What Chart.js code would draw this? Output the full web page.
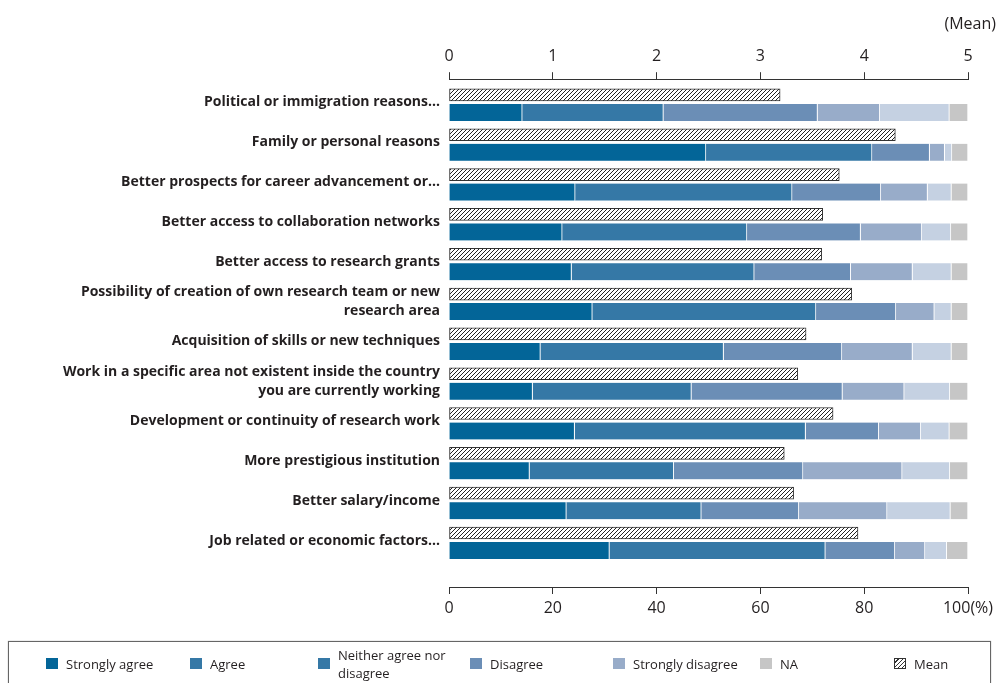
<!DOCTYPE html>
<html>
<head>
<meta charset="utf-8">
<script src="https://cdn.jsdelivr.net/npm/chart.js@4.4.0/dist/chart.umd.min.js"></script>
<style>
  html, body { margin: 0; padding: 0; background: #fff; }
  #wrap { position: relative; width: 998px; height: 683px; overflow: hidden; font-family: "Open Sans", sans-serif; }
  #chart { position: absolute; left: 0; top: 0; }
  #legend { position: absolute; left: 8px; top: 641px; width: 981px; height: 60px; border: 1px solid #666; box-shadow: 0 0 1px #999; }
  .item { position: absolute; top: 0; height: 43px; display: flex; align-items: center; font-size: 13px; color: #231f20; line-height: 18px; }
  .sw { width: 12px; height: 11px; margin-right: 8px; flex: none; box-sizing: border-box; }
  .sw.hatch { border: 1px solid #333; background: repeating-linear-gradient(135deg, #fff 0 2px, #333 2px 3px); }
</style>
</head>
<body>
<div id="wrap">
  <canvas id="chart" width="998" height="683"></canvas>
  <div id="legend"></div>
</div>
<script>
/* ==========================================================
   DATA
   ==========================================================*/
const categories = [
  "Political or immigration reasons...",
  "Family or personal reasons",
  "Better prospects for career advancement or...",
  "Better access to collaboration networks",
  "Better access to research grants",
  ["Possibility of creation of own research team or new", "research area"],
  "Acquisition of skills or new techniques",
  ["Work in a specific area not existent inside the country", "you are currently working"],
  "Development or continuity of research work",
  "More prestigious institution",
  "Better salary/income",
  "Job related or economic factors...",
];

const meanValues = [3.19, 4.30, 3.76, 3.60, 3.59, 3.88, 3.44, 3.36, 3.70, 3.23, 3.32, 3.94];

const stronglyAgree    = [14.1, 49.5, 24.3, 21.8, 23.6, 27.6, 17.6, 16.1, 24.2, 15.5, 22.6, 30.9];
const agree            = [27.2, 32.0, 41.8, 35.6, 35.2, 43.1, 35.3, 30.6, 44.5, 27.8, 26.0, 41.6];
const neither          = [29.7, 11.1, 17.1, 21.9, 18.6, 15.4, 22.8, 29.1, 14.1, 24.9, 18.8, 13.4];
const disagree         = [12.0,  2.9,  9.0, 11.8, 11.9,  7.4, 13.6, 11.9,  8.1, 19.1, 17.0,  5.8];
const stronglyDisagree = [13.4,  1.4,  4.6,  5.6,  7.5,  3.3,  7.5,  8.8,  5.5,  9.2, 12.2,  4.2];
const notAnswered      = [ 3.6,  3.1,  3.2,  3.3,  3.2,  3.2,  3.2,  3.5,  3.6,  3.5,  3.4,  4.1];

const seriesNames = ["Strongly agree", "Agree", "Neither agree nor disagree", "Disagree", "Strongly disagree", "NA"];
const meanTicks = [0, 1, 2, 3, 4, 5];
const pctTicks = [0, 20, 40, 60, 80, 100];

/* ==========================================================
   STYLE
   ==========================================================*/
const barColors = ["#036598", "#3578a6", "#6b8eb6", "#98acc9", "#c5d1e2", "#c6c6c6"];
// the printed legend reuses the Agree swatch for "Neither" and shifts the rest
const legendColors = ["#036598", "#3578a6", "#3578a6", "#6b8eb6", "#98acc9", "#c6c6c6"];
const legendLeft = [37, 181, 309, 461, 604, 751, 885];
const textColor = "#231f20";

const canvas = document.getElementById("chart");
const ctx = canvas.getContext("2d");

function hatchPattern() {
  const c = document.createElement("canvas");
  c.width = 4;
  c.height = 4;
  const g = c.getContext("2d");
  g.fillStyle = "#fff";
  g.fillRect(0, 0, 4, 4);
  g.strokeStyle = "#222";
  g.lineWidth = 1;
  g.beginPath();
  g.moveTo(0, 4); g.lineTo(4, 0);
  g.moveTo(-1, 1); g.lineTo(1, -1);
  g.moveTo(3, 5); g.lineTo(5, 3);
  g.stroke();
  return ctx.createPattern(c, "repeat");
}

/* ==========================================================
   CHART
   ==========================================================*/
const pctSeries = [stronglyAgree, agree, neither, disagree, stronglyDisagree, notAnswered];

const datasets = [
  {
    label: "Mean",
    data: meanValues,
    xAxisID: "x2",
    stack: "mean",
    backgroundColor: hatchPattern(),
    borderColor: "#333",
    borderWidth: 1,
    borderSkipped: false,
    barThickness: 15,
    maxBarThickness: 12,
  },
  ...pctSeries.map((values, i) => ({
    label: seriesNames[i],
    data: values,
    xAxisID: "x",
    stack: "pct",
    backgroundColor: barColors[i],
    borderColor: "#fff",
    borderWidth: { top: 0, right: 1, bottom: 0, left: 0 },
    borderSkipped: false,
    barThickness: 20,
    maxBarThickness: 17,
  })),
];

const axisLine = {
  grid: { drawOnChartArea: false, drawTicks: true, tickLength: 7, color: "#333", lineWidth: 1 },
  border: { display: true, color: "#333", width: 1 },
};

new Chart(canvas, {
  type: "bar",
  data: { labels: categories.map((_, i) => i), datasets },
  options: {
    indexAxis: "y",
    responsive: false,
    animation: false,
    events: [],
    layout: { padding: { left: 0, right: 2, top: 0, bottom: 56 } },
    plugins: {
      legend: { display: false },
      tooltip: { enabled: false },
      title: {
        display: true,
        text: "(Mean)",
        align: "end",
        color: textColor,
        font: { family: "Open Sans", size: 16, weight: "normal", lineHeight: 1.2 },
        padding: { top: 15, bottom: 0 },
      },
    },
    scales: {
      y: {
        type: "linear",
        reverse: true,
        offset: false,
        min: -0.583,
        max: 12.167,
        grid: { display: false },
        border: { display: false },
        afterBuildTicks: (s) => { s.ticks = categories.map((_, i) => ({ value: i })); },
        afterFit: (s) => { s.width = 449; },
        ticks: {
          autoSkip: false,
          padding: 1,
          color: textColor,
          font: { family: "Open Sans", size: 14, weight: "bold", lineHeight: 1.36 },
          callback: (v) => categories[v],
        },
      },
      x: {
        position: "bottom",
        stacked: true,
        min: 0,
        max: 100,
        ...axisLine,
        afterBuildTicks: (s) => { s.ticks = pctTicks.map((v) => ({ value: v })); },
        afterFit: (s) => { s.height = 40; s.paddingRight = 30; },
        ticks: {
          padding: 5,
          color: textColor,
          font: { family: "Open Sans", size: 16 },
          callback: (v) => (v === 100 ? "100(%)" : v),
        },
      },
      x2: {
        position: "top",
        min: 0,
        max: 5,
        ...axisLine,
        afterBuildTicks: (s) => { s.ticks = meanTicks.map((v) => ({ value: v })); },
        afterFit: (s) => { s.height = 45; s.paddingRight = 30; },
        ticks: {
          padding: 6,
          color: textColor,
          font: { family: "Open Sans", size: 16 },
        },
      },
    },
  },
});

/* ==========================================================
   LEGEND (html, so the two-line entry wraps like the print)
   ==========================================================*/
const legend = document.getElementById("legend");
seriesNames.forEach((name, i) => {
  const item = document.createElement("div");
  item.className = "item";
  item.style.left = legendLeft[i] + "px";
  const sw = document.createElement("span");
  sw.className = "sw";
  sw.style.background = legendColors[i];
  const txt = document.createElement("span");
  txt.innerHTML = name === "Neither agree nor disagree" ? "Neither agree nor<br>disagree" : name;
  item.append(sw, txt);
  legend.appendChild(item);
});
const meanItem = document.createElement("div");
meanItem.className = "item";
meanItem.style.left = legendLeft[6] + "px";
meanItem.innerHTML = '<span class="sw hatch"></span><span>Mean</span>';
legend.appendChild(meanItem);
</script>
</body>
</html>
